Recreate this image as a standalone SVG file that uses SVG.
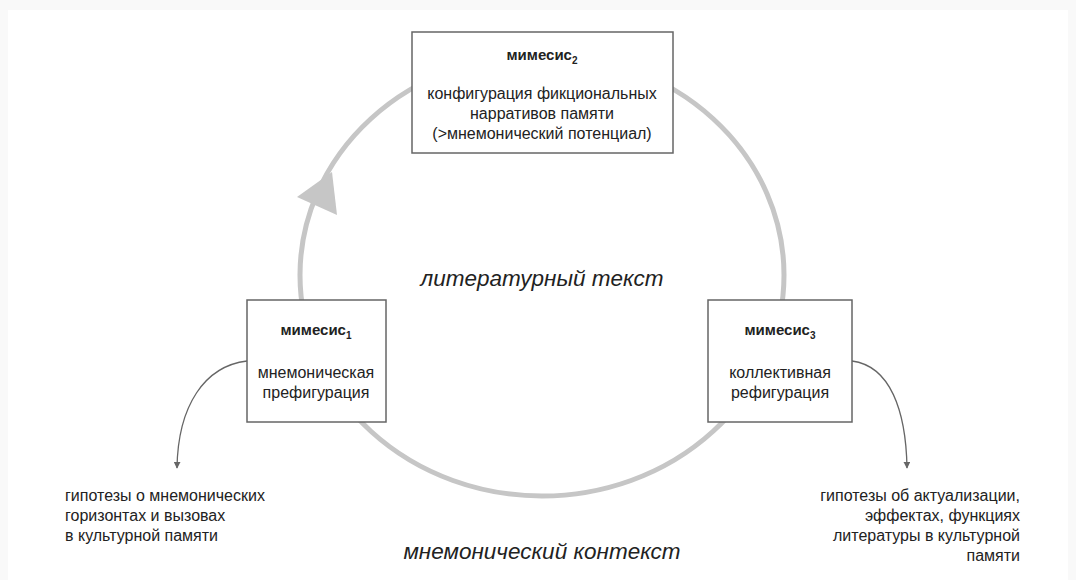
<svg xmlns="http://www.w3.org/2000/svg" width="1076" height="580" viewBox="0 0 1076 580">
<defs>
<style>
.t{font-family:"Liberation Sans",Arial,sans-serif;font-size:16px;fill:#222}
.b{font-weight:bold;font-size:15px}
.s{font-size:10px}
.i{font-family:"Liberation Sans",Arial,sans-serif;font-style:italic;font-size:22.5px;fill:#222}
.box{fill:#fff;stroke:#666;stroke-width:1.5}
.con{fill:none;stroke:#666;stroke-width:1.3}
</style>
<marker id="ah" viewBox="0 0 10 10" refX="9" refY="5" markerWidth="7" markerHeight="7" orient="auto" markerUnits="userSpaceOnUse">
<path d="M0,0 L10,5 L0,10 z" fill="#666"/>
</marker>
</defs>
<rect width="1076" height="580" fill="#f9f9f9"/>
<rect x="8" y="10" width="1060" height="570" fill="#fff"/>
<g id="cycle">
<ellipse cx="542" cy="275" rx="242" ry="221" fill="none" stroke="#c6c6c6" stroke-width="5"/>
<polygon points="332,172 297,197 337,215" fill="#c6c6c6"/>
</g>
<g id="connectors">
<path class="con" d="M247,361 C205,366 178,405 177,468" marker-end="url(#ah)"/>
<path class="con" d="M852,361 C890,366 906,410 907,468" marker-end="url(#ah)"/>
</g>
<g id="mimesis2">
<rect class="box" x="412" y="32" width="261" height="121"/>
<text class="t b" x="542" y="60" text-anchor="middle">мимесис<tspan class="s" dy="4">2</tspan></text>
<text class="t" x="542" y="99" text-anchor="middle">конфигурация фикциональных</text>
<text class="t" x="542" y="119" text-anchor="middle">нарративов памяти</text>
<text class="t" x="542" y="139" text-anchor="middle">(&gt;мнемонический потенциал)</text>
</g>
<g id="mimesis1">
<rect class="box" x="247" y="300" width="139" height="122"/>
<text class="t b" x="316" y="335" text-anchor="middle">мимесис<tspan class="s" dy="4">1</tspan></text>
<text class="t" x="316" y="378" text-anchor="middle">мнемоническая</text>
<text class="t" x="316" y="398" text-anchor="middle">префигурация</text>
</g>
<g id="mimesis3">
<rect class="box" x="708" y="300" width="144" height="122"/>
<text class="t b" x="780" y="335" text-anchor="middle">мимесис<tspan class="s" dy="4">3</tspan></text>
<text class="t" x="780" y="378" text-anchor="middle">коллективная</text>
<text class="t" x="780" y="398" text-anchor="middle">рефигурация</text>
</g>
<g id="labels">
<text class="i" x="542" y="286" text-anchor="middle">литературный текст</text>
<text class="i" x="542" y="559" text-anchor="middle">мнемонический контекст</text>
</g>
<g id="hyp1">
<text class="t" x="65" y="501">гипотезы о мнемонических</text>
<text class="t" x="65" y="521">горизонтах и вызовах</text>
<text class="t" x="65" y="541">в культурной памяти</text>
</g>
<g id="hyp3">
<text class="t" x="1020" y="501" text-anchor="end">гипотезы об актуализации,</text>
<text class="t" x="1020" y="521" text-anchor="end">эффектах, функциях</text>
<text class="t" x="1020" y="541" text-anchor="end">литературы в культурной</text>
<text class="t" x="1020" y="561" text-anchor="end">памяти</text>
</g>
</svg>
